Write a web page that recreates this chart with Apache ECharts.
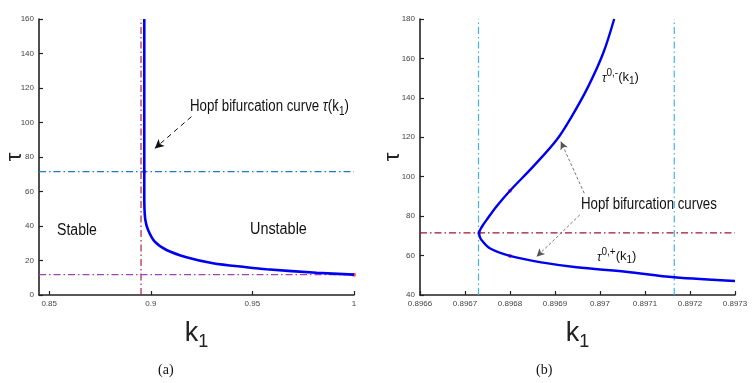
<!DOCTYPE html>
<html><head><meta charset="utf-8">
<script src="https://cdn.jsdelivr.net/npm/echarts@6/dist/echarts.min.js"></script>
<style>html,body{margin:0;padding:0;background:#fff}#c{width:756px;height:383px}</style>
</head><body><div id="c"></div>
<script>
// ---------- Panel (a) data ----------
const aXMin = 0.845, aXMax = 1;
const aXTicks = [0.85, 0.9, 0.95, 1];
const aYMin = 0, aYMax = 160, aYStep = 20;
const aCurveK   = [0.8968, 0.8968, 0.8968, 0.8968, 0.8969, 0.8974, 0.89867, 0.90197, 0.90772, 0.91755, 0.93063, 0.94705, 0.957, 0.9816, 1];
const aCurveTau = [160, 120, 71.5, 60, 50, 43, 37.7, 30.9, 26.1, 21.9, 18.4, 16.1, 14.9, 12.9, 11.8];
const aDotK = [0.8968, 1];
const aDotTau = [71.5, 11.8];
const aVLineK = 0.8952;        // red dash-dot vertical
const aHLineTau1 = 71.5;       // blue dash-dot horizontal
const aHLineTau2 = 11.8;       // purple dash-dot horizontal
const aArrowFrom = [0.920, 103.4], aArrowTo = [0.902, 85];

// ---------- Panel (b) data ----------
const bXMin = 0.8966, bXMax = 0.8973, bXStep = 0.0001;
const bYMin = 40, bYMax = 180, bYStep = 20;
const bCurveK   = [0.8970315, 0.897007, 0.8969737, 0.8969367, 0.8969034, 0.8968513, 0.8968, 0.8967695, 0.8967477, 0.896740, 0.8967335, 0.8967312, 0.896733, 0.8967366, 0.896755, 0.8968, 0.8968736, 0.8969479, 0.8970575, 0.897165, 0.8973];
const bCurveTau = [180, 162.6, 145.7, 130.4, 118.6, 105.1, 92.9, 84.8, 78.0, 75.5, 73.0, 71.4, 69.5, 67.9, 63.7, 59.8, 56.4, 54.05, 51.8, 49.0, 47.1];
const bDotK = [0.8968, 0.8967312, 0.8968];
const bDotTau = [92.9, 71.4, 59.8];
const bVLineK1 = 0.89673, bVLineK2 = 0.897165;   // light blue dash-dot verticals
const bHLineTau = 71.5;                          // red dash-dot horizontal
const bArrow1From = [0.896965, 91.6], bArrow1To = [0.896913, 117.8];
const bArrow2From = [0.896955, 80.6], bArrow2To = [0.896859, 59.4];

const zip = (xs, ys) => xs.map((x, i) => [x, ys[i]]);
const dashDot = [7, 3, 1.5, 3];
const FONT = '"Liberation Sans", Arial, sans-serif';

function axisCommon() {
  return {
    axisLine: { show: true, onZero: false, lineStyle: { color: '#222', width: 1.6 } },
    axisTick: { show: true, inside: true, length: 4, lineStyle: { color: '#222', width: 1.2 } },
    axisLabel: { color: '#444', fontSize: 8, fontFamily: FONT, margin: 5 },
    splitLine: { show: false }
  };
}
const xName = { rich: { k: { fontSize: 27, fontFamily: FONT, color: '#222' }, s: { fontSize: 18, fontFamily: FONT, color: '#222', padding: [17, 0, 0, 0] } } };

const chart = echarts.init(document.getElementById('c'), null, { renderer: 'canvas' });
const ax0 = axisCommon(), ax1 = axisCommon();
const option = {
  animation: false,
  grid: [
    { left: 39, top: 19, width: 315, height: 276, outerBoundsMode: 'none', containLabel: false },
    { left: 420, top: 19, width: 315, height: 276, outerBoundsMode: 'none', containLabel: false }
  ],
  xAxis: [
    Object.assign(axisCommon(), {
      type: 'value', gridIndex: 0, min: aXMin, max: aXMax,
      name: '{k|k}{s|1}', nameLocation: 'middle', nameGap: 21, nameTextStyle: xName,
      axisTick: Object.assign(ax0.axisTick, { customValues: aXTicks }),
      axisLabel: Object.assign(ax0.axisLabel, { customValues: aXTicks, formatter: v => String(+v.toFixed(3)) })
    }),
    Object.assign(axisCommon(), {
      type: 'value', gridIndex: 1, min: bXMin, max: bXMax, interval: bXStep,
      name: '{k|k}{s|1}', nameLocation: 'middle', nameGap: 21, nameTextStyle: xName,
      axisLabel: Object.assign(ax1.axisLabel, { formatter: v => String(+v.toFixed(4)) })
    })
  ],
  yAxis: [
    Object.assign(axisCommon(), { type: 'value', gridIndex: 0, min: aYMin, max: aYMax, interval: aYStep }),
    Object.assign(axisCommon(), { type: 'value', gridIndex: 1, min: bYMin, max: bYMax, interval: bYStep })
  ],
  series: [
    // panel (a)
    { type: 'line', xAxisIndex: 0, yAxisIndex: 0, symbol: 'none', data: [[aVLineK, aYMin], [aVLineK, aYMax]],
      lineStyle: { color: '#B0203F', width: 1.2, type: dashDot } },
    { type: 'line', xAxisIndex: 0, yAxisIndex: 0, symbol: 'none', data: [[aXMin, aHLineTau1], [aXMax, aHLineTau1]],
      lineStyle: { color: '#1F78C8', width: 1.2, type: dashDot } },
    { type: 'line', xAxisIndex: 0, yAxisIndex: 0, symbol: 'none', data: [[aXMin, aHLineTau2], [aXMax, aHLineTau2]],
      lineStyle: { color: '#9A45B8', width: 1.2, type: dashDot } },
    { type: 'line', xAxisIndex: 0, yAxisIndex: 0, symbol: 'none', smooth: 0.3,
      data: zip(aCurveK, aCurveTau), lineStyle: { color: '#0000F0', width: 2.6 },
      markLine: { silent: true, symbol: ['none', 'arrow'], symbolSize: [7, 9], label: { show: false },
        lineStyle: { color: '#111', width: 1, type: [5, 4] },
        data: [[{ coord: aArrowFrom }, { coord: aArrowTo }]] } },
    { type: 'scatter', xAxisIndex: 0, yAxisIndex: 0, symbol: 'circle', symbolSize: 4,
      itemStyle: { color: '#FF1A1A' }, data: zip(aDotK, aDotTau) },
    // panel (b)
    { type: 'line', xAxisIndex: 1, yAxisIndex: 1, symbol: 'none', data: [[bVLineK1, bYMin], [bVLineK1, bYMax]],
      lineStyle: { color: '#3FB4EA', width: 1.2, type: dashDot } },
    { type: 'line', xAxisIndex: 1, yAxisIndex: 1, symbol: 'none', data: [[bVLineK2, bYMin], [bVLineK2, bYMax]],
      lineStyle: { color: '#3FB4EA', width: 1.2, type: dashDot } },
    { type: 'line', xAxisIndex: 1, yAxisIndex: 1, symbol: 'none', data: [[bXMin, bHLineTau], [bXMax, bHLineTau]],
      lineStyle: { color: '#A2142F', width: 1.2, type: dashDot } },
    { type: 'line', xAxisIndex: 1, yAxisIndex: 1, symbol: 'none', smooth: 0.35,
      data: zip(bCurveK, bCurveTau), lineStyle: { color: '#0000F0', width: 2.4 },
      markLine: { silent: true, symbol: ['none', 'arrow'], symbolSize: [6, 8], label: { show: false },
        lineStyle: { color: '#555', width: 0.8, type: [3, 2] },
        data: [[{ coord: bArrow1From }, { coord: bArrow1To }], [{ coord: bArrow2From }, { coord: bArrow2To }]] } },
    { type: 'scatter', xAxisIndex: 1, yAxisIndex: 1, symbol: 'circle', symbolSize: 4,
      itemStyle: { color: '#FF1A1A' }, data: zip(bDotK, bDotTau) }
  ],
  graphic: [
    { type: 'text', x: 15, y: 157, rotation: Math.PI / 2, style: { text: 'τ', fontSize: 22, fontFamily: FONT, fill: '#222', align: 'center', verticalAlign: 'middle' } },
    { type: 'text', x: 393, y: 157, rotation: Math.PI / 2, style: { text: 'τ', fontSize: 22, fontFamily: FONT, fill: '#222', align: 'center', verticalAlign: 'middle' } },
    { type: 'text', left: 190, top: 99, scaleX: 0.83, style: {
      text: '{a|Hopf bifurcation curve }{i|τ}{a|(k}{s|1}{a|)}',
      rich: { a: { fontSize: 16, fontFamily: FONT, fill: '#111' }, i: { fontSize: 16, fontFamily: FONT, fontStyle: 'italic', fill: '#111' },
              s: { fontSize: 12, fontFamily: FONT, fill: '#111', padding: [9, 0, 0, 0] } } } },
    { type: 'text', left: 57, top: 223, scaleX: 0.88, style: { text: 'Stable', fontSize: 16, fontFamily: FONT, fill: '#111' } },
    { type: 'text', left: 250, top: 222, scaleX: 0.9, style: { text: 'Unstable', fontSize: 16, fontFamily: FONT, fill: '#111' } },
    { type: 'text', left: 581, top: 197, scaleX: 0.83, style: { text: 'Hopf bifurcation curves', fontSize: 16, fontFamily: FONT, fill: '#111' } },
    { type: 'text', left: 602, top: 68, style: {
      text: '{i|τ}{p|0,-}{a|(k}{s|1}{a|)}',
      rich: { a: { fontSize: 13, fontFamily: FONT, fill: '#111' }, i: { fontSize: 12, fontFamily: FONT, fontStyle: 'italic', fill: '#111', padding: [4, 0, 0, 0] },
              p: { fontSize: 10, fontFamily: FONT, fill: '#111', padding: [0, 0, 8, 0] },
              s: { fontSize: 10, fontFamily: FONT, fill: '#111', padding: [8, 0, 0, 0] } } } },
    { type: 'text', left: 597, top: 247, style: {
      text: '{i|τ}{p|0,+}{a|(k}{s|1}{a|)}',
      rich: { a: { fontSize: 13, fontFamily: FONT, fill: '#111' }, i: { fontSize: 12, fontFamily: FONT, fontStyle: 'italic', fill: '#111', padding: [4, 0, 0, 0] },
              p: { fontSize: 10, fontFamily: FONT, fill: '#111', padding: [0, 0, 8, 0] },
              s: { fontSize: 10, fontFamily: FONT, fill: '#111', padding: [8, 0, 0, 0] } } } },
    { type: 'text', left: 158, top: 363, style: { text: '(a)', fontSize: 14, fontFamily: '"Liberation Serif", "Times New Roman", serif', fill: '#111' } },
    { type: 'text', left: 536, top: 363, style: { text: '(b)', fontSize: 14, fontFamily: '"Liberation Serif", "Times New Roman", serif', fill: '#111' } }
  ]
};
chart.setOption(option);
</script>
</body></html>
